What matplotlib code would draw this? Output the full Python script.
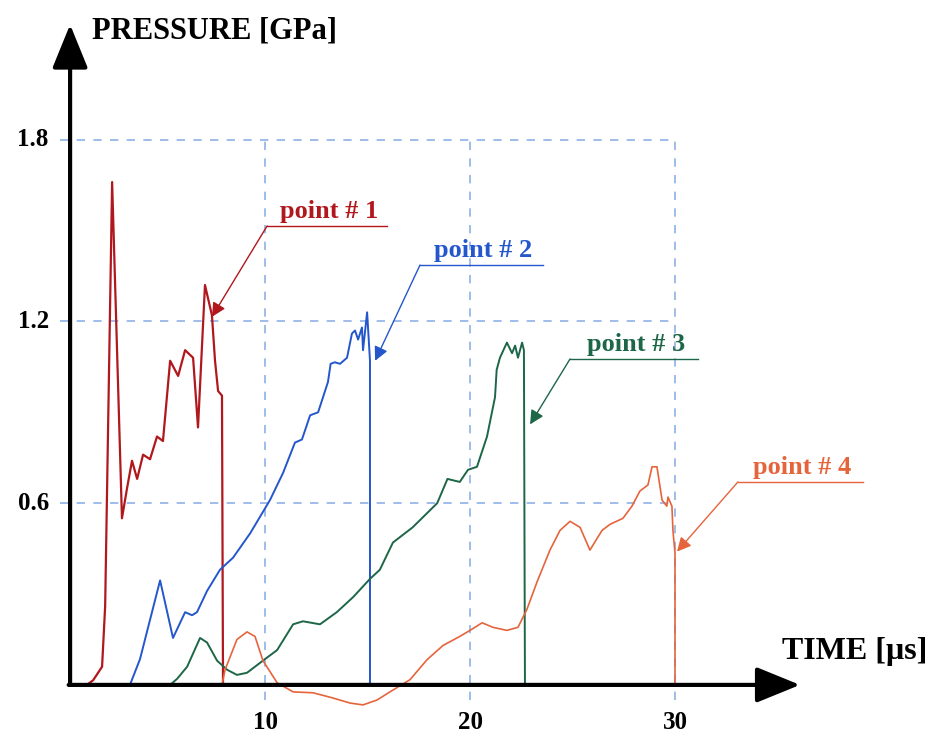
import matplotlib
matplotlib.use("Agg")
import matplotlib.pyplot as plt

# time [us] / pressure [GPa]
p1_t = [1.3, 1.61, 2.05, 2.2, 2.54, 3.02, 3.27, 3.51, 3.76, 4.05, 4.39, 4.73, 5.02, 5.37, 5.76,
        6.1, 6.49, 6.73, 7.07, 7.41, 7.56, 7.71, 7.9, 7.95]
p1_p = [0.0, 0.015, 0.06, 0.26, 1.66, 0.55, 0.65, 0.74, 0.68, 0.76, 0.745, 0.82, 0.805, 1.07, 1.02,
        1.105, 1.08, 0.85, 1.32, 1.22, 1.07, 0.97, 0.955, 0.0]

p2_t = [3.41, 3.9, 4.88, 5.51, 6.1, 6.44, 6.68, 7.17, 7.8, 8.44, 9.27, 10.24, 10.88, 11.46, 11.8,
        12.2, 12.59, 12.83, 13.07, 13.2, 13.4, 13.66, 14.0, 14.24, 14.39, 14.54, 14.73, 14.78,
        14.98, 15.12, 15.12]
p2_p = [0.0, 0.085, 0.345, 0.155, 0.24, 0.23, 0.24, 0.31, 0.38, 0.42, 0.5, 0.61, 0.70, 0.80, 0.81,
        0.89, 0.90, 0.95, 1.0, 1.06, 1.065, 1.06, 1.08, 1.16, 1.17, 1.14, 1.18, 1.105,
        1.23, 1.07, 0.0]

p3_t = [5.37, 5.71, 6.2, 6.83, 7.17, 7.66, 8.15, 8.63, 9.12, 9.76, 10.59, 11.37, 11.85, 12.68,
        13.5, 14.3, 15.12, 15.6, 16.24, 17.2, 18.4, 18.9, 19.5, 19.9, 20.34, 20.83, 21.22, 21.3,
        21.46, 21.8, 22.05, 22.2, 22.34, 22.54, 22.63, 22.68]
p3_p = [0.0, 0.02, 0.06, 0.155, 0.14, 0.08, 0.05, 0.033, 0.04, 0.073, 0.115, 0.2, 0.21, 0.2,
        0.24, 0.29, 0.35, 0.38, 0.47, 0.52, 0.6, 0.68, 0.67, 0.71, 0.72, 0.82, 0.95, 1.04,
        1.08, 1.13, 1.095, 1.12, 1.08, 1.13, 1.105, 0.0]

p4_t = [7.9, 8.05, 8.63, 9.12, 9.51, 9.9, 10.59, 11.37, 12.34, 13.3, 14.15, 14.78, 15.46, 16.24,
        17.07, 17.9, 18.68, 19.5, 20.0, 20.59, 21.12, 21.8, 22.34, 22.78, 23.27, 23.9, 24.39,
        24.88, 25.37, 25.85, 26.44, 26.83, 27.46, 27.9, 28.29, 28.68, 28.88, 29.12, 29.37, 29.6,
        29.66, 29.85, 29.9, 30.0, 30.0]
p4_p = [0.0, 0.05, 0.15, 0.175, 0.16, 0.08, 0.007, -0.023, -0.026, -0.043, -0.06, -0.066, -0.05,
        -0.017, 0.017, 0.083, 0.13, 0.16, 0.18, 0.205, 0.19, 0.18, 0.19, 0.25, 0.34, 0.445, 0.51,
        0.54, 0.52, 0.445, 0.51, 0.53, 0.55, 0.59, 0.64, 0.66, 0.72, 0.72, 0.61, 0.59,
        0.62, 0.59, 0.51, 0.435, 0.0]

labels = ["point # 1", "point # 2", "point # 3", "point # 4"]
colors = ["#b0181e", "#2456cc", "#1d6647", "#e6643c"]
widths = [1.6, 1.4, 1.4, 1.2]
# arrow tip on curve, start of underline, end of underline
tips = [(7.41, 1.215), (15.37, 1.07), (22.93, 0.86), (30.1, 0.44)]
line_start = [(10.1, 1.515), (17.56, 1.386), (24.88, 1.076), (33.07, 0.67)]
line_end_x = [15.95, 23.56, 31.12, 39.17]

x_ticks = [10, 20, 30]
y_ticks = [0.6, 1.2, 1.8]

plt.rcParams["font.family"] = ["Liberation Serif", "DejaVu Serif"]
plt.rcParams["font.weight"] = "bold"

fig = plt.figure(figsize=(9.39, 7.37), dpi=100)
ax = fig.add_axes([0, 0, 1, 1])
ax.set_xlim(-2.93, 42.88)
ax.set_ylim(-0.172, 2.261)
ax.axis("off")

# grid box
grid_kw = dict(color="#8fb0e6", lw=1.2, dashes=(5, 5), zorder=1)
for yv in y_ticks:
    ax.plot([0, 30], [yv, yv], **grid_kw)
for xv in x_ticks:
    ax.plot([xv, xv], [-0.05, 1.8], **grid_kw)

series = [(p1_t, p1_p), (p2_t, p2_p), (p3_t, p3_p), (p4_t, p4_p)]
order = [3, 2, 1, 0]
for i in order:
    t, p = series[i]
    ax.plot(t, p, color=colors[i], lw=widths[i], zorder=3 + i)

# axes with arrows
x0 = 0.49
ax.annotate("", xy=(x0, 2.18), xytext=(x0, 0.0),
            arrowprops=dict(arrowstyle="-|>,head_length=1.35,head_width=0.55",
                            mutation_scale=20, lw=3, color="black",
                            shrinkA=0, shrinkB=0), zorder=10)
ax.annotate("", xy=(36.1, 0.0), xytext=(x0 - 0.07, 0.0),
            arrowprops=dict(arrowstyle="-|>,head_length=1.35,head_width=0.55",
                            mutation_scale=20, lw=3, color="black",
                            shrinkA=0, shrinkB=0), zorder=10)

for yv in y_ticks:
    ax.text(-0.55, yv, f"{yv:.1f}", ha="right", va="center", fontsize=18, fontweight="bold")
for xv in x_ticks:
    ax.text(xv, -0.125, f"{xv}", ha="center", va="center", fontsize=18, fontweight="bold")

ax.text(1.56, 2.16, "PRESSURE [GPa]", ha="left", va="center", fontsize=22, fontweight="bold")
ax.text(35.2, 0.109, "TIME [μs]", ha="left", va="center", fontsize=23, fontweight="bold")

# callouts
for i, lab in enumerate(labels):
    sx, sy = line_start[i]
    ax.plot([sx, line_end_x[i]], [sy, sy], color=colors[i], lw=1.0, zorder=8)
    ax.annotate("", xy=tips[i], xytext=(sx, sy),
                arrowprops=dict(arrowstyle="-|>,head_length=0.6,head_width=0.3",
                                mutation_scale=14, lw=1.0, color=colors[i],
                                shrinkA=0, shrinkB=0), zorder=8)
    ax.text((sx + line_end_x[i]) / 2 + 0.1, sy + 0.026, lab, ha="center", va="baseline",
            fontsize=19, fontweight="bold", color=colors[i])

fig.savefig("out.png", dpi=100, facecolor="white")
